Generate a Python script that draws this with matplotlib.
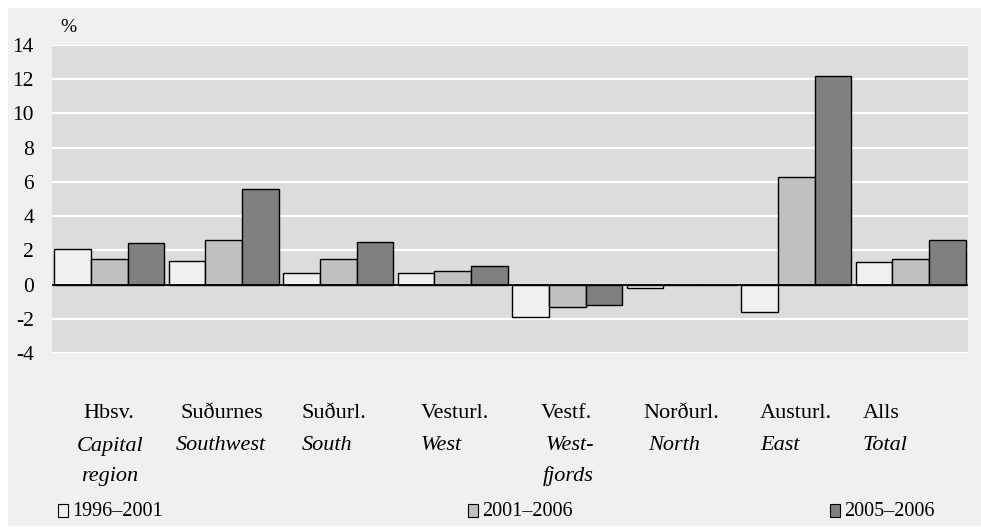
"""Population change by region, annual average (%)."""
import matplotlib.pyplot as plt
import matplotlib.transforms as mtransforms
from matplotlib.patches import Rectangle
import numpy as np

plt.rcParams["font.family"] = ["Liberation Serif", "DejaVu Serif"]

regions_is = ["Hbsv.", "Suðurnes", "Suðurl.", "Vesturl.", "Vestf.", "Norðurl.", "Austurl.", "Alls"]
regions_en = ["Capital\nregion", "Southwest", "South", "West", "West-\nfjords", "North", "East", "Total"]
periods = ["1996–2001", "2001–2006", "2005–2006"]

change_1996_2001 = [2.1, 1.4, 0.7, 0.7, -1.9, -0.2, -1.6, 1.3]
change_2001_2006 = [1.5, 2.6, 1.5, 0.8, -1.3, 0.0, 6.3, 1.5]
change_2005_2006 = [2.4, 5.6, 2.5, 1.1, -1.2, 0.0, 12.2, 2.6]

yticks = [-4, -2, 0, 2, 4, 6, 8, 10, 12, 14]

colors = ["#f0f0f0", "#c0c0c0", "#808080"]
series = [change_1996_2001, change_2001_2006, change_2005_2006]

W, H = 981, 527
fig = plt.figure(figsize=(W / 100, H / 100), dpi=100)
fig.patch.set_facecolor("white")
# outer light panel
fig.patches.append(Rectangle((8 / W, 1 / H), 1 - 8 / W, 1 - 9 / H,
                             transform=fig.transFigure, facecolor="#f0f0f0",
                             edgecolor="none", zorder=-1))

ax = fig.add_axes([52 / W, 1 - 353 / H, 916 / W, 308 / H])
ax.set_zorder(1)
ax.set_facecolor("#dcdcdc")

x = np.arange(len(regions_is))
width = 0.32
for k, (vals, col) in enumerate(zip(series, colors)):
    ax.bar(x + (k - 1) * width, vals, width, color=col, edgecolor="black",
           linewidth=1.0, zorder=3)

ax.set_xlim(-0.5, len(regions_is) - 0.5)
ax.set_ylim(-4, 14)
ax.set_yticks(yticks)
ax.set_yticklabels([str(t) for t in yticks], fontsize=15.5)
ax.set_xticks([])
ax.tick_params(axis="y", length=0, pad=13)
ax.yaxis.grid(True, color="white", linewidth=1.6, zorder=1)
ax.set_axisbelow(True)
ax.axhline(0, color="black", linewidth=1.3, zorder=4)
for s in ax.spines.values():
    s.set_visible(False)

fig.text(60 / W, 1 - 27 / H, "%", fontsize=14, va="center", ha="left")

# category labels: Icelandic (regular) over English (italic), left aligned per group
off_is = [0.25, 0.10, 0.16, 0.20, 0.245, 0.145, 0.165, 0.057]
off_en = [0.20, 0.065, 0.16, 0.20, 0.29, 0.19, 0.165, 0.057]
off_en2 = [0.23, 0, 0, 0, 0.27, 0, 0, 0]
trans = mtransforms.blended_transform_factory(ax.transData, fig.transFigure)
for i in range(len(regions_is)):
    left = i - 0.48
    ax.text(left + off_is[i], 1 - 414 / H, regions_is[i], transform=trans,
            fontsize=16, ha="left", va="center", clip_on=False)
    lines = regions_en[i].split("\n")
    ax.text(left + off_en[i], 1 - 446 / H, lines[0], transform=trans,
            fontsize=16, style="italic", ha="left", va="center", clip_on=False)
    if len(lines) > 1:
        ax.text(left + off_en2[i], 1 - 476 / H, lines[1], transform=trans,
                fontsize=16, style="italic", ha="left", va="center", clip_on=False)

# legend
leg_x = [58, 468, 830]
for lx, col, lab in zip(leg_x, colors, periods):
    fig.patches.append(Rectangle((lx / W, 1 - 517 / H), 10 / W, 13 / H,
                                 transform=fig.transFigure, facecolor=col,
                                 edgecolor="black", linewidth=0.8, zorder=2))
    fig.text((lx + 14) / W, 1 - 511 / H, lab, fontsize=14.5, va="center", ha="left")

fig.savefig("out.png", dpi=100)
